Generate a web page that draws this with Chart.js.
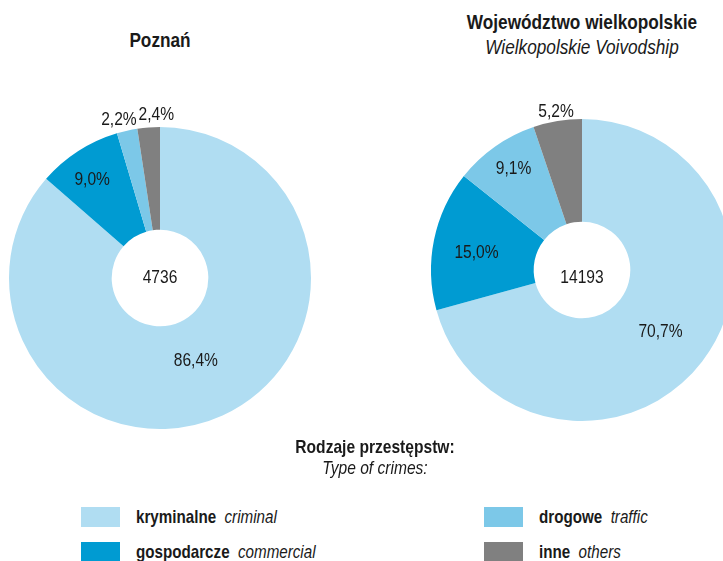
<!DOCTYPE html>
<html>
<head>
<meta charset="utf-8">
<script src="https://cdn.jsdelivr.net/npm/chart.js@4.4.1/dist/chart.umd.min.js"></script>
<style>
  html, body { margin: 0; padding: 0; background: #fff; }
  body { width: 723px; height: 561px; position: relative; overflow: hidden;
         font-family: "Liberation Sans", Arial, sans-serif; color: #1a1a1a; }
  /* Arial Narrow nie ma, więc zwężamy Liberation Sans */
  .t { position: absolute; white-space: nowrap; transform: translate(-50%, -50%) scaleX(0.82); }
  .b { font-weight: bold; }
  .i { font-style: italic; }
  canvas { position: absolute; }
  .box { position: absolute; width: 39px; height: 20px; }
  .lbl { position: absolute; font-size: 18.5px; white-space: nowrap;
         transform-origin: 0 50%; transform: translateY(-50%) scaleX(0.82); }
</style>
</head>
<body>
<div class="t b" style="left:160px; top:40px; font-size:21px;">Poznań</div>
<div class="t b" style="left:582px; top:22px; font-size:21px;">Województwo wielkopolskie</div>
<div class="t i" style="left:582px; top:47px; font-size:21px;">Wielkopolskie Voivodship</div>

<canvas id="poznan" width="362" height="362" style="left:-21px; top:97px;"></canvas>
<canvas id="woj" width="362" height="362" style="left:401px; top:89px;"></canvas>

<div class="t b" style="left:375px; top:447px; font-size:19px;">Rodzaje przestępstw:</div>
<div class="t i" style="left:375px; top:468px; font-size:19px;">Type of crimes:</div>

<div id="legend"></div>

<script>
// kategorie przestępstw
const CATEGORIES = ["kryminalne", "gospodarcze", "drogowe", "inne"];
const CATEGORIES_EN = ["criminal", "commercial", "traffic", "others"];
const COLORS = ["#b0ddf2", "#009bd2", "#7cc8e8", "#808080"];

// udział procentowy
const POZNAN_VALUES = [86.4, 9.0, 2.2, 2.4];
const WOJ_VALUES = [70.7, 15.0, 9.1, 5.2];

// liczba przestępstw ogółem (środek)
const POZNAN_TOTAL = "4736";
const WOJ_TOTAL = "14193";

// gdzie stoją etykiety (promień w px, przesunięcie kąta w stopniach)
const POZNAN_LABEL_R = [90, 119, 163, 163];
const POZNAN_LABEL_SHIFT = [1, -2, -2, 3];
const WOJ_LABEL_R = [100, 107, 122, 160];
const WOJ_LABEL_SHIFT = [1, -2, 1, 0];

const LABEL_FONT = '19px "Liberation Sans", Arial, sans-serif';

function fmt(v) {
  return v.toFixed(1).replace(".", ",") + "%";
}

function narrowText(ctx, txt, x, y) {
  ctx.save();
  ctx.translate(x, y);
  ctx.scale(0.82, 1);
  ctx.fillText(txt, 0, 0);
  ctx.restore();
}

// rysuje procenty i sumę w środku
const labelsPlugin = {
  id: "sliceLabels",
  afterDatasetsDraw(chart, args, opts) {
    const ctx = chart.ctx;
    const meta = chart.getDatasetMeta(0);
    const values = chart.data.datasets[0].data;
    ctx.save();
    ctx.fillStyle = "#1a1a1a";
    ctx.textAlign = "center";
    ctx.textBaseline = "middle";
    ctx.font = LABEL_FONT;
    meta.data.forEach((arc, i) => {
      const mid = (arc.startAngle + arc.endAngle) / 2 + opts.shift[i] * Math.PI / 180;
      const r = opts.radius[i];
      narrowText(ctx, fmt(values[i]), arc.x + Math.cos(mid) * r, arc.y + Math.sin(mid) * r);
    });
    const a = meta.data[0];
    narrowText(ctx, opts.total, a.x, a.y + opts.totalDy);
    ctx.restore();
  }
};

function makeDoughnut(id, values, total, radius, shift, totalDy) {
  const ctx = document.getElementById(id).getContext("2d");
  return new Chart(ctx, {
    type: "doughnut",
    data: {
      labels: CATEGORIES,
      datasets: [{
        data: values,
        backgroundColor: COLORS,
        borderWidth: 0,
        hoverOffset: 0
      }]
    },
    options: {
      responsive: false,
      animation: false,
      devicePixelRatio: 1,
      cutout: "32%",
      layout: { padding: 30 },
      events: [],
      plugins: {
        legend: { display: false },
        tooltip: { enabled: false },
        sliceLabels: { radius: radius, shift: shift, total: total, totalDy: totalDy }
      }
    },
    plugins: [labelsPlugin]
  });
}

makeDoughnut("poznan", POZNAN_VALUES, POZNAN_TOTAL, POZNAN_LABEL_R, POZNAN_LABEL_SHIFT, 0);
makeDoughnut("woj", WOJ_VALUES, WOJ_TOTAL, WOJ_LABEL_R, WOJ_LABEL_SHIFT, 8);

// legenda (2 kolumny)
const legend = document.getElementById("legend");
const LEG_X = [81, 81, 484, 484];
const LEG_Y = [507, 542, 507, 542];
CATEGORIES.forEach((c, i) => {
  const box = document.createElement("div");
  box.className = "box";
  box.style.left = LEG_X[i] + "px";
  box.style.top = LEG_Y[i] + "px";
  box.style.background = COLORS[i];
  legend.appendChild(box);

  const lbl = document.createElement("div");
  lbl.className = "lbl";
  lbl.style.left = (LEG_X[i] + 55) + "px";
  lbl.style.top = (LEG_Y[i] + 10) + "px";
  lbl.innerHTML = '<span class="b">' + c + '</span>&nbsp; <span class="i">' + CATEGORIES_EN[i] + '</span>';
  legend.appendChild(lbl);
});
</script>
</body>
</html>
